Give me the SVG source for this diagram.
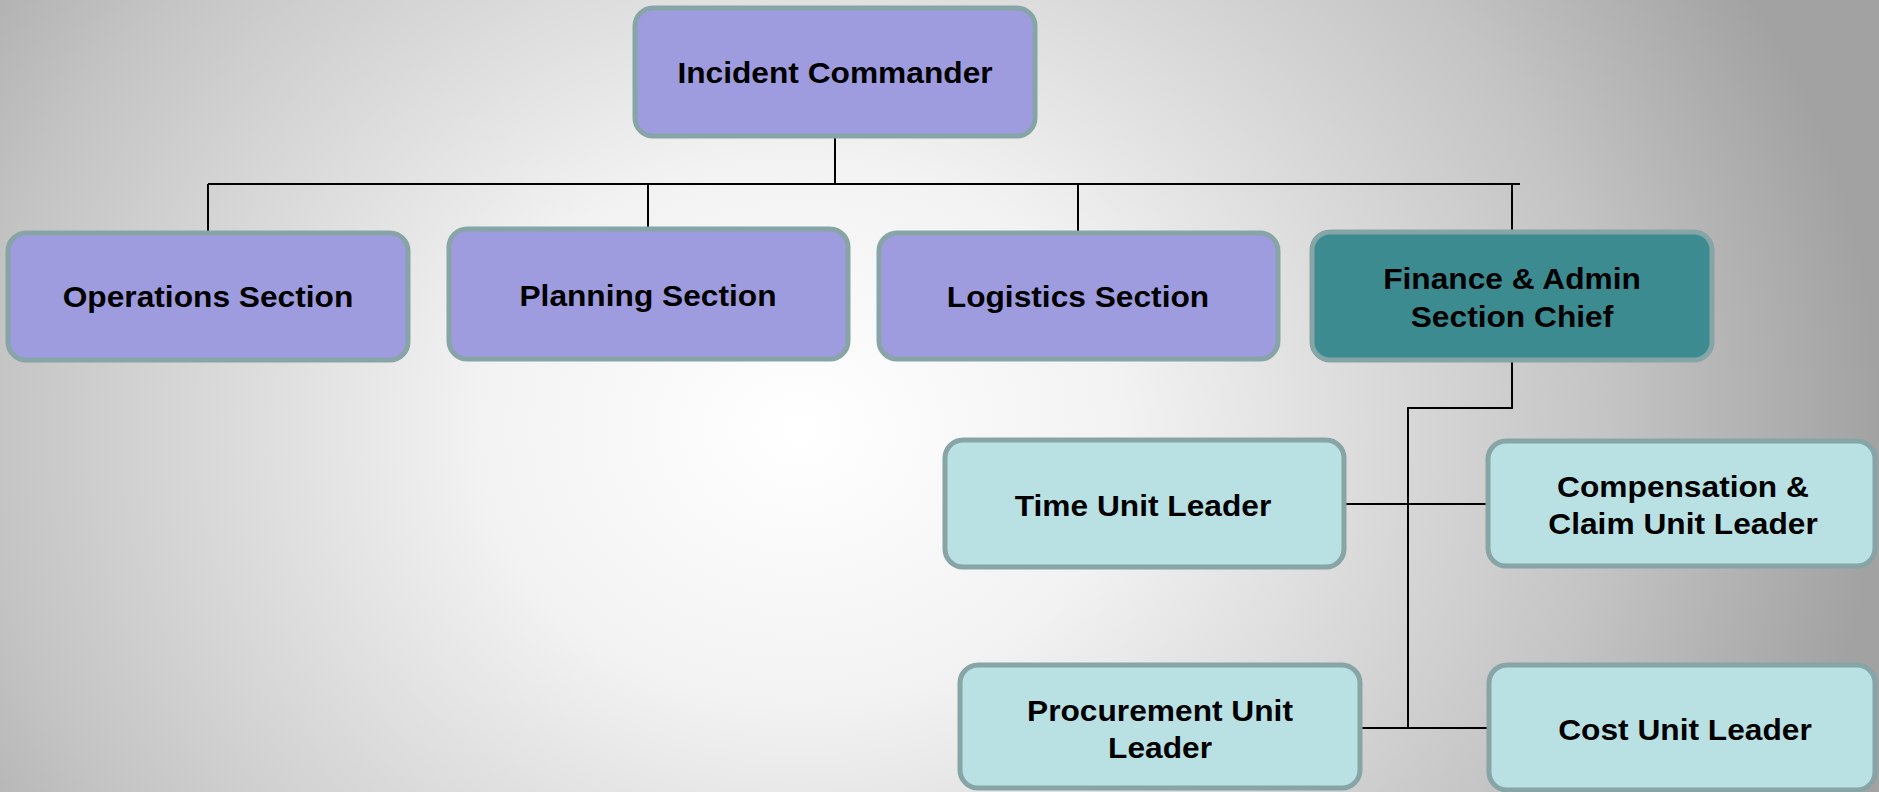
<svg xmlns="http://www.w3.org/2000/svg" width="1879" height="792" viewBox="0 0 1879 792">
<defs>
<radialGradient id="bg" gradientUnits="userSpaceOnUse" cx="0" cy="0" r="1" gradientTransform="translate(800,430) scale(1080,920)">
<stop offset="0" stop-color="#ffffff"/>
<stop offset="0.3" stop-color="#f2f2f2"/>
<stop offset="0.75" stop-color="#c4c4c4"/>
<stop offset="1" stop-color="#a2a2a2"/>
</radialGradient>
</defs>
<style>
.box{stroke:#87a4a6;stroke-width:5}
.purple{fill:#9e9cde}
.teal{fill:#3b8b90}
.light{fill:#b9e0e3}
.lbl{font-family:"Liberation Sans",Arial,sans-serif;font-weight:bold;font-size:29.5px;fill:#000;text-anchor:middle}
.conn{stroke:#000;stroke-width:2;fill:none}
</style>
<rect x="0" y="0" width="1879" height="792" fill="url(#bg)"/>
<g id="connectors">
<path class="conn" d="M835 138V184M208 184H1520M208 184V231M648 184V227M1078 184V231M1512 184V230"/>
<path class="conn" d="M1512 362V408H1408V728M1346 504H1487M1361 728H1487"/>
</g>
<g id="incident-commander">
<rect class="box purple" x="635" y="8" width="400" height="128" rx="18"/>
<text class="lbl" transform="translate(835,83) scale(1.075,1)">Incident Commander</text>
</g>
<g id="operations">
<rect class="box purple" x="8" y="233" width="400" height="127" rx="18"/>
<text class="lbl" transform="translate(208,307) scale(1.075,1)">Operations Section</text>
</g>
<g id="planning">
<rect class="box purple" x="449" y="229" width="399" height="130" rx="18"/>
<text class="lbl" transform="translate(648,306) scale(1.075,1)">Planning Section</text>
</g>
<g id="logistics">
<rect class="box purple" x="879" y="233" width="399" height="126" rx="18"/>
<text class="lbl" transform="translate(1078,307) scale(1.075,1)">Logistics Section</text>
</g>
<g id="finance">
<rect class="box teal" x="1312" y="232" width="400" height="128" rx="18"/>
<text class="lbl" transform="translate(1512,289) scale(1.075,1)"><tspan x="0" y="0">Finance &amp; Admin</tspan><tspan x="0" y="38">Section Chief</tspan></text>
</g>
<g id="time-unit">
<rect class="box light" x="945" y="440" width="399" height="127" rx="18"/>
<text class="lbl" transform="translate(1143,516) scale(1.075,1)">Time Unit Leader</text>
</g>
<g id="compensation-unit">
<rect class="box light" x="1488" y="441" width="387" height="125" rx="18"/>
<text class="lbl" transform="translate(1683,497) scale(1.075,1)"><tspan x="0" y="0">Compensation &amp;</tspan><tspan x="0" y="37">Claim Unit Leader</tspan></text>
</g>
<g id="procurement-unit">
<rect class="box light" x="960" y="665" width="400" height="123" rx="18"/>
<text class="lbl" transform="translate(1160,721) scale(1.075,1)"><tspan x="0" y="0">Procurement Unit</tspan><tspan x="0" y="37">Leader</tspan></text>
</g>
<g id="cost-unit">
<rect class="box light" x="1489" y="665" width="386" height="125" rx="18"/>
<text class="lbl" transform="translate(1685,740) scale(1.075,1)">Cost Unit Leader</text>
</g>
</svg>
